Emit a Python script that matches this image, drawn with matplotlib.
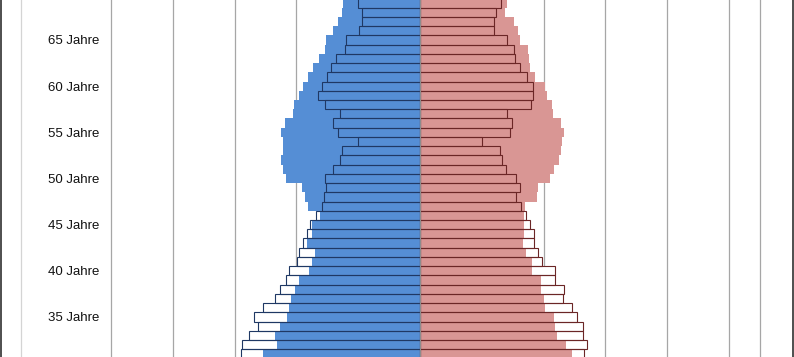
import numpy as np
import matplotlib
matplotlib.use('Agg')
from matplotlib import pyplot as plt
from matplotlib.lines import Line2D

plt.rcParams['font.family'] = ['Liberation Sans', 'DejaVu Sans']

# Alter 31..69 (Tausend Personen)
ages = list(range(31, 70))

# Männer, aktuelles Jahr (gefüllt)
men_now = [50.7, 46.4, 46.9, 45.3, 42.9, 42.3, 41.8, 40.5, 39.2, 35.9,
           35.0, 34.0, 36.5, 34.9, 35.1, 32.4, 36.4, 37.1, 38.3, 43.4,
           44.2, 45.1, 44.2, 44.4, 45.1, 43.7, 41.1, 40.8, 39.0, 37.7,
           36.4, 34.6, 32.8, 30.9, 30.3, 28.3, 26.4, 25.4, 24.8]
# Männer, Vergleichsjahr (Umriss)
men_cmp = [58.0, 57.5, 55.2, 52.3, 53.7, 50.7, 46.9, 45.3, 43.5, 42.3,
           39.9, 39.3, 38.0, 36.5, 35.6, 33.7, 31.8, 31.0, 30.3, 30.9,
           28.1, 26.0, 25.1, 20.0, 26.6, 28.3, 25.9, 30.7, 33.0, 31.8,
           30.2, 28.9, 27.2, 24.3, 24.0, 19.6, 18.8, 18.9, 20.2]
# Frauen, aktuelles Jahr (gefüllt)
women_now = [49.3, 47.1, 44.4, 43.6, 43.3, 40.4, 40.1, 39.1, 39.1, 36.3,
             36.2, 34.4, 33.4, 33.7, 33.7, 33.6, 34.1, 38.0, 38.2, 42.2,
             43.4, 44.9, 45.7, 46.0, 46.7, 45.7, 43.1, 42.7, 41.1, 40.5,
             37.3, 35.7, 35.3, 34.9, 32.2, 31.6, 30.3, 27.6, 28.2]
# Frauen, Vergleichsjahr (Umriss)
women_cmp = [53.2, 54.0, 52.8, 52.7, 50.9, 49.3, 46.1, 46.6, 43.8, 43.7,
             39.5, 38.1, 36.9, 36.9, 35.6, 34.3, 32.6, 31.0, 32.3, 31.1,
             27.8, 26.4, 25.9, 20.2, 29.1, 29.8, 28.2, 35.9, 36.7, 36.7,
             34.7, 32.2, 30.8, 30.5, 28.2, 23.9, 23.9, 24.7, 26.3]

label_ages = [35, 40, 45, 50, 55, 60, 65]

blue = '#558ed5'
pink = '#d99694'
navy = '#1f3864'
maroon = '#6b2626'

fig = plt.figure(figsize=(7.94, 3.57), dpi=100)
ax = fig.add_axes([21 / 794, 0, (760 - 21) / 794, 1])

ax.set_xlim(-129.1, 110.0)
ax.set_ylim(30.66, 69.33)

# Gitternetz
for gx in range(-100, 101, 20):
    ax.axvline(gx, color='#a6a6a6', lw=0.9, zorder=0)

men_cmp_neg = -np.array(men_cmp)
men_now_neg = -np.array(men_now)

# Vergleichsjahr: weiße Fläche hinten
ax.barh(ages, men_cmp_neg, height=1.0, color='white', linewidth=0, zorder=1)
ax.barh(ages, women_cmp, height=1.0, color='white', linewidth=0, zorder=1)

# aktuelles Jahr gefüllt
ax.barh(ages, men_now_neg, height=1.0, color=blue, linewidth=0, zorder=2)
ax.barh(ages, women_now, height=1.0, color=pink, linewidth=0, zorder=2)

# Vergleichsjahr: Umriss vorne
ax.barh(ages, men_cmp_neg, height=1.0, facecolor='none', edgecolor=navy,
        linewidth=0.8, zorder=3)
ax.barh(ages, women_cmp, height=1.0, facecolor='none', edgecolor=maroon,
        linewidth=0.8, zorder=3)

ax.axvline(0, color='#8c8c8c', lw=0.8, zorder=4)

for a in label_ages:
    ax.text(-103.9, a, '%d Jahre' % a, ha='right', va='center_baseline',
            fontsize=9.5, color='#111111')

ax.set_xticks([])
ax.set_yticks([])
for side in ['top', 'bottom']:
    ax.spines[side].set_visible(False)
ax.spines['left'].set_color('#d4d4d4')
ax.spines['right'].set_color('#a6a6a6')
ax.spines['left'].set_linewidth(0.9)
ax.spines['right'].set_linewidth(0.9)

# Rahmen des Diagrammbereichs
fig.add_artist(Line2D([0.7 / 794, 0.7 / 794], [0, 1], color='#404040', lw=1.3))
fig.add_artist(Line2D([793.3 / 794, 793.3 / 794], [0, 1], color='#404040', lw=1.3))

fig.savefig('out.png', dpi=100)
